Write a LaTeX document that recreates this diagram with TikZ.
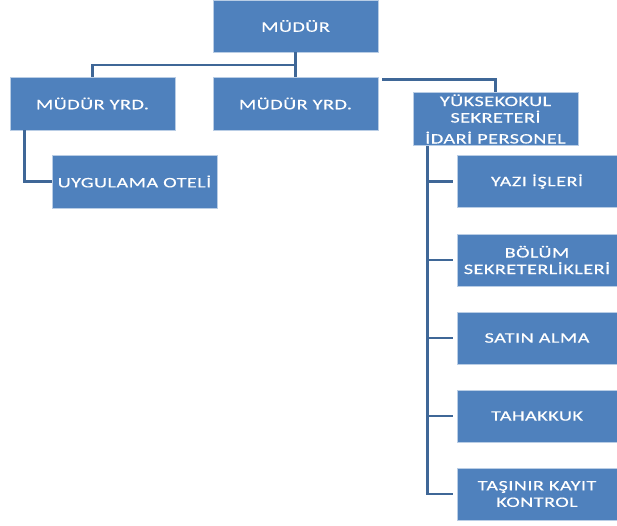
\documentclass[tikz,border=0pt]{standalone}
\usepackage{fontspec}
\setmainfont{Carlito}[FakeStretch=1.4, LetterSpace=3, FakeBold=0.3]
\usepackage{tikz}
\definecolor{boxblue}{RGB}{79,129,189}
\definecolor{lineblue}{RGB}{63,103,151}
\definecolor{edgeblue}{RGB}{185,205,229}

\begin{document}
\begin{tikzpicture}[x=1pt, y=-1pt,
		  unit/.style={rectangle, fill=boxblue, draw=edgeblue, line width=0.6pt, minimum width=165pt, minimum height=52pt, inner sep=2pt, text=white, align=center, font=\fontsize{14.5}{16.5}\selectfont},
		  sub unit/.style={unit, minimum width=160pt},
		  link/.style={lineblue, line width=2.6pt}]
		  \useasboundingbox (0,0) rectangle (617,526);
		  \node[unit] (mudur) at (295.5,26) {MÜDÜR};
		  \node[unit, minimum height=53pt] (yrd1) at (92.5,103.5) {MÜDÜR YRD.};
		  \node[unit, minimum height=53pt] (yrd2) at (295.5,103.5) {MÜDÜR YRD.};
		  \node[unit] (yo) at (495.5,119) {YÜKSEKOKUL\\SEKRETERİ\\[4.5pt]İDARİ PERSONEL};
		  \node[unit, minimum height=53pt] (otel) at (134.5,181.5) {UYGULAMA OTELİ};
		  \foreach \name/\y/\txt in {yazi/181.5/{YAZI İŞLERİ}, bolum/260/{BÖLÜM\\SEKRETERLİKLERİ}, satin/338/{SATIN ALMA}, tahakkuk/416/{TAHAKKUK}, tasinir/494/{TAŞINIR KAYIT\\KONTROL}}{
		      \node[sub unit] (\name) at (537,\y) {\txt};
		  }
		  \coordinate (fork) at (295.5,65);
		  \coordinate (spine) at ([xshift=15pt]yo.south west);
		  \draw[link] (mudur.south) -- (yrd2.north);
		  \draw[link] (fork) -| (yrd1.north);
		  \draw[link] ([xshift=4pt,yshift=-3pt]yrd2.north east) -| (yo.north);
		  \draw[link] ([xshift=15pt]yrd1.south west) |- (otel.west);
		  \draw[link] (spine) |- ([xshift=-4pt]tasinir.west);
		  \foreach \name in {yazi,bolum,satin,tahakkuk}{
		      \draw[link] (spine |- \name.west) -- ([xshift=-4pt]\name.west);
		  }
	\end{tikzpicture}
\end{document}
